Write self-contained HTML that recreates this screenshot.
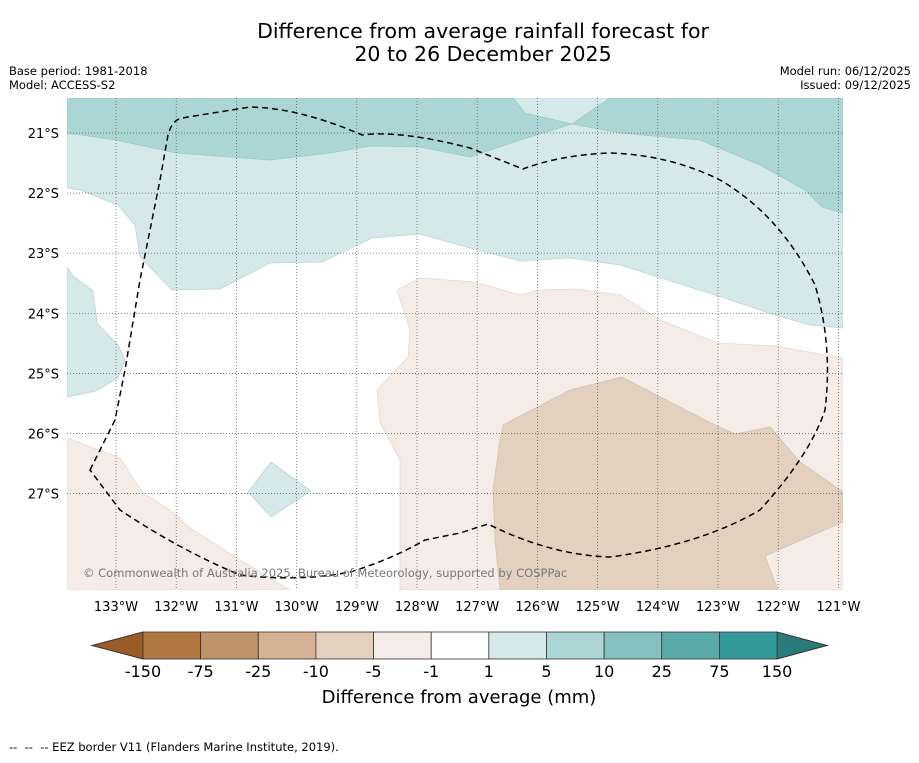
<!DOCTYPE html>
<html><head><meta charset="utf-8"><style>
body{margin:0;background:#fff;font-family:"Liberation Sans","DejaVu Sans",sans-serif}
svg text{font-family:"DejaVu Sans","Liberation Sans",sans-serif}
</style></head><body>
<svg id="c" width="919" height="758" xmlns="http://www.w3.org/2000/svg">
<text x="483" y="38" font-size="20.5" text-anchor="middle">Difference from average rainfall forecast for</text>
<text x="483" y="61" font-size="20.5" text-anchor="middle">20 to 26 December 2025</text>
<text x="9" y="75" font-size="11.5">Base period: 1981-2018</text>
<text x="9" y="89" font-size="11.5">Model: ACCESS-S2</text>
<text x="911" y="75" font-size="11.5" text-anchor="end">Model run: 06/12/2025</text>
<text x="911" y="89" font-size="11.5" text-anchor="end">Issued: 09/12/2025</text>
<defs><clipPath id="mc"><rect x="67" y="98" width="776" height="492"/></clipPath></defs>
<g clip-path="url(#mc)">
<rect x="67" y="98" width="776" height="492" fill="#fff"/>
<polygon fill="#d4e9e8" stroke="#b9d6d5" stroke-width="0.8" points="67,98 843,98 843,328 810,325 775,315 715,295 620,265 570,258 520,261 470,248 420,234 372,238 322,262 270,263 220,289 172,290 140,257 135,225 118,205 80,190 67,188"/>
<polygon fill="#acd6d6" stroke="#9cc9c9" stroke-width="0.8" points="67,98 513,98 525,113 572,124 610,98 843,98 843,213 822,207 805,190 760,165 700,140 620,133 572,124 520,140 470,157 420,147 370,146 330,153 270,160 176,153 116,140 67,133"/>
<polygon fill="#d4e9e8" stroke="#b9d6d5" stroke-width="0.8" points="67,267 72,275 93,291 97,323 118,345 125,360 118,378 96,391 67,397"/>
<polygon fill="#d4e9e8" stroke="#b9d6d5" stroke-width="0.8" points="248,492 271,462 311,491 271,517"/>
<polygon fill="#f5ece7" stroke="#e6d9d0" stroke-width="0.8" points="397,290 420,278 475,282 520,295 540,290 575,289 620,295 660,320 718,343 775,346 843,358 843,590 400,590 400,460 380,423 377,390 408,357 410,330"/>
<polygon fill="#f5ece7" stroke="#e6d9d0" stroke-width="0.8" points="67,438 120,458 142,492 170,510 190,528 240,560 290,590 67,590"/>
<polygon fill="#e3d0bf" stroke="#d8c2ae" stroke-width="0.8" points="503,425 570,390 622,377 670,402 715,425 735,434 770,427 800,462 843,492 843,522 765,556 778,590 500,590 495,540 493,490 500,440"/>
<g id="grid"></g>
<path fill="none" stroke="#000" stroke-width="1.5" stroke-dasharray="6,4" d="M90,470 L115,420 L125,370 L140,280 L160,180 L168,135 Q172,120 182,118 L250,107 Q300,108 362,135 Q400,130 470,148 L523,169 Q560,155 610,153 Q670,155 720,180 Q780,215 815,285 Q833,345 825,410 Q810,455 760,510 Q700,545 610,557 Q550,555 488,524 L460,533 L425,540 Q390,560 350,572 Q300,582 240,575 Q180,550 120,510 Z"/>
<text x="83" y="577" font-size="11.5" fill="#777">© Commonwealth of Australia 2025, Bureau of Meteorology, supported by COSPPac</text>
</g>
<g id="axes"></g>
<g id="cbar"></g>
<text x="459" y="703" font-size="18" text-anchor="middle">Difference from average (mm)</text>
<text x="9" y="751" font-size="11.5" xml:space="preserve">--  --  -- EEZ border V11 (Flanders Marine Institute, 2019).</text>
</svg>
<script>
const lonTicks=[133,132,131,130,129,128,127,126,125,124,123,122,121];
const latTicks=[21,22,23,24,25,26,27];
const cbLabels=["-150","-75","-25","-10","-5","-1","1","5","10","25","75","150"];
const cbColors=["#b07840","#c0936a","#d4b293","#e3d0bf","#f5ece7","#ffffff","#d4e9e8","#acd6d6","#84c1c0","#5aaaa9","#34999a"];
const NS="http://www.w3.org/2000/svg";
function xLon(l){return 116+(133-l)*60.2;}
function yLat(l){return 133+(l-21)*60.1;}
function mk(t,a,p){const e=document.createElementNS(NS,t);for(const k in a)e.setAttribute(k,a[k]);p.appendChild(e);return e;}
const grid=document.getElementById('grid'),axes=document.getElementById('axes'),cb=document.getElementById('cbar');
lonTicks.forEach(l=>{const x=xLon(l);
const g=mk('line',{x1:x,x2:x,y1:98,y2:590,stroke:'#555','stroke-width':0.7,'stroke-dasharray':'1,2'},grid);


const t=mk('text',{x:x,y:611,'font-size':13,'text-anchor':'middle'},axes);t.textContent=l+'°W';

});
latTicks.forEach(l=>{const y=yLat(l);
const g=mk('line',{x1:67,x2:843,y1:y,y2:y,stroke:'#555','stroke-width':0.7,'stroke-dasharray':'1,2'},grid);


const t=mk('text',{x:59,y:y+5,'font-size':13,'text-anchor':'end'},axes);t.textContent=l+'°S';

});
const x0=143,w=57.64,y0=632,h=27;
const l=mk('polygon',{points:`92,${y0+h/2} ${x0},${y0} ${x0},${y0+h}`,fill:'#9a5c26',stroke:'#333','stroke-width':1},cb);


const xe=x0+w*cbColors.length;
const r=mk('polygon',{points:`827,${y0+h/2} ${xe},${y0} ${xe},${y0+h}`,fill:'#2a7a79',stroke:'#333','stroke-width':1},cb);


cbColors.forEach((c,i)=>{const b=mk('rect',{x:x0+i*w,y:y0,width:w,height:h,fill:c,stroke:'#333','stroke-width':0.8},cb);

});
cbLabels.forEach((s,i)=>{const t=mk('text',{x:x0+i*w,y:677,'font-size':16,'text-anchor':'middle'},cb);t.textContent=s;

});
</script>
</body></html>
